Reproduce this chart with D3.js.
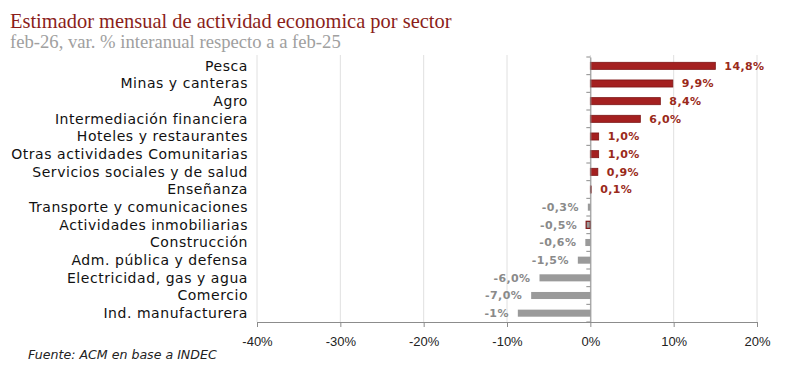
<!DOCTYPE html>
<html><head><meta charset="utf-8">
<script src="https://cdn.jsdelivr.net/npm/d3@7"></script>
<style>html,body{margin:0;padding:0;background:#fff;}svg{display:block;}</style>
</head><body>
<svg id="chart" width="800" height="378"></svg>
<script>
const categories = ["Pesca","Minas y canteras","Agro","Intermediación financiera","Hoteles y restaurantes","Otras actividades Comunitarias","Servicios sociales y de salud","Enseñanza","Transporte y comunicaciones","Actividades inmobiliarias","Construcción","Adm. pública y defensa","Electricidad, gas y agua","Comercio","Ind. manufacturera"];
const values = [15.0, 9.9, 8.4, 6.0, 1.0, 1.0, 0.9, 0.1, -0.3, -0.5, -0.6, -1.5, -6.1, -7.1, -8.7];
const valueLabels = ["14,8%","9,9%","8,4%","6,0%","1,0%","1,0%","0,9%","0,1%","-0,3%","-0,5%","-0,6%","-1,5%","-6,0%","-7,0%","-1%"];
const xTicks = [-40,-30,-20,-10,0,10,20];
const outlined = ["Actividades inmobiliarias"];

const title = "Estimador mensual de actividad economica por sector";
const subtitle = "feb-26, var. % interanual respecto a a feb-25";
const source = "Fuente: ACM en base a INDEC";

const svg = d3.select("#chart");
const x = d3.scaleLinear().domain([-40,20]).range([257,757]);
const y = d3.scaleBand().domain(categories).range([57,322]).paddingInner(0.6).paddingOuter(0.3);
const yb = d3.scaleBand().domain(categories).range([57,322]);

const red = "#a42020", redDark = "#7d1515", redText = "#9a2a1a";
const grey = "#9a9a9a", greyText = "#8a8a8a";

function fitWidth(sel, target){
  const w = sel.node().getComputedTextLength();
  const fs = parseFloat(sel.attr("font-size"));
  sel.attr("font-size", fs*target/w);
}

// titles
const t1 = svg.append("text").attr("x",10).attr("y",28).attr("font-family","'Liberation Serif','Times New Roman',serif")
  .attr("font-size",20).attr("fill","#8b1e1a").text(title);
fitWidth(t1, 442);
const t2 = svg.append("text").attr("x",10).attr("y",48).attr("font-family","'Liberation Serif','Times New Roman',serif")
  .attr("font-size",16).attr("fill","#a0a0a0").text(subtitle);
fitWidth(t2, 331);

// gridlines
svg.append("g").selectAll("line").data(xTicks).join("line")
  .attr("x1",d=>x(d)).attr("x2",d=>x(d)).attr("y1",55).attr("y2",322)
  .attr("stroke","#e0e0e0").attr("stroke-width",1);

// x axis
const xAxis = d3.axisBottom(x).tickValues(xTicks).tickSize(5).tickFormat(d=>d+"%");
const gx = svg.append("g").attr("transform","translate(0,322)").call(xAxis);
gx.select(".domain").attr("stroke","#8c8c8c");
gx.selectAll(".tick line").attr("stroke","#8c8c8c");
gx.selectAll(".tick text").attr("font-family","'Liberation Sans Narrow','Liberation Sans',Arial,sans-serif")
  .attr("font-size",13).attr("fill","#222").attr("dy","1.2em");

// bars
svg.append("g").selectAll("rect").data(categories).join("rect")
  .attr("x",(d,i)=>x(Math.min(0,values[i])))
  .attr("width",(d,i)=>Math.abs(x(values[i])-x(0)))
  .attr("y",d=>y(d)).attr("height",y.bandwidth())
  .attr("fill",(d,i)=>values[i]>=0?red:grey)
  .attr("stroke",(d,i)=>values[i]>=0||outlined.includes(d)?redDark:"none")
  .attr("stroke-width",(d)=>outlined.includes(d)?1.2:0.8);

// y axis (at zero)
const yAxis = d3.axisLeft(yb).tickSize(0).tickFormat("");
const gy = svg.append("g").attr("transform",`translate(${x(0)},0)`).call(yAxis);
gy.select(".domain").attr("stroke","#8c8c8c");
gy.selectAll("line.bt").data(d3.range(categories.length+1)).join("line").attr("class","bt")
  .attr("x1",-4).attr("x2",0)
  .attr("y1",i=>57+i*yb.step()).attr("y2",i=>57+i*yb.step()).attr("stroke","#8c8c8c");

// category labels
svg.append("g").selectAll("text").data(categories).join("text")
  .attr("x",248).attr("y",d=>yb(d)+yb.bandwidth()/2).attr("dy","0.35em")
  .attr("text-anchor","end").attr("font-family","'DejaVu Sans',Verdana,sans-serif")
  .attr("font-size",14).attr("letter-spacing",0.55).attr("fill","#111").text(d=>d);

// value labels
svg.append("g").selectAll("text").data(categories).join("text")
  .attr("x",(d,i)=>values[i]>=0? x(values[i])+9 : x(values[i])-9)
  .attr("y",d=>yb(d)+yb.bandwidth()/2).attr("dy","0.35em")
  .attr("text-anchor",(d,i)=>values[i]>=0?"start":"end")
  .attr("font-family","'DejaVu Sans',Verdana,sans-serif").attr("font-weight","bold")
  .attr("font-size",11).attr("letter-spacing",0.4)
  .attr("fill",(d,i)=>values[i]>=0?redText:greyText)
  .text((d,i)=>valueLabels[i]);

// source
svg.append("text").attr("x",28).attr("y",359).attr("font-family","'DejaVu Sans',Verdana,sans-serif")
  .attr("font-style","italic").attr("font-size",12.6).attr("fill","#222").text(source);
</script>
</body></html>
